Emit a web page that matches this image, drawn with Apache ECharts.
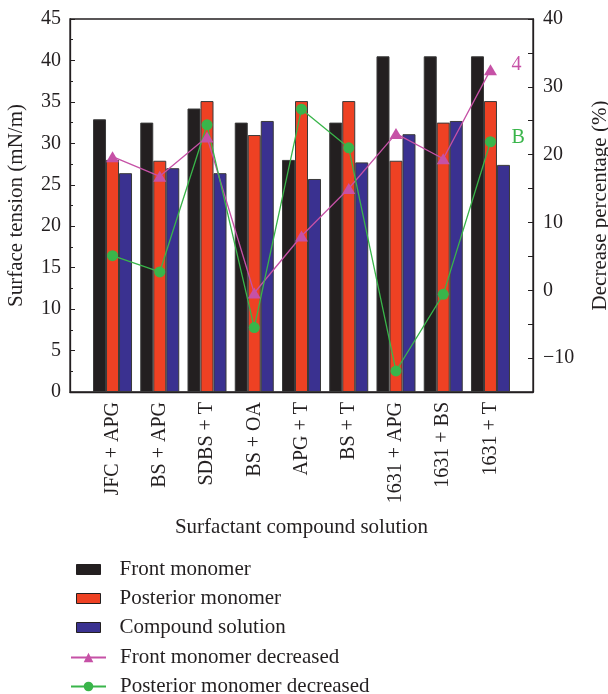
<!DOCTYPE html>
<html>
<head>
<meta charset="utf-8">
<script src="https://cdn.jsdelivr.net/npm/echarts@6/dist/echarts.min.js"></script>
<style>
  html, body { margin: 0; padding: 0; background: #fff; }
  #chart { width: 608px; height: 694px; }
</style>
</head>
<body>
<div id="chart"></div>
<script>
// categories and values
const categories = ['JFC + APG', 'BS + APG', 'SDBS + T', 'BS + OA', 'APG + T', 'BS + T', '1631 + APG', '1631 + BS', '1631 + T'];
const frontMonomer = [32.9, 32.5, 34.2, 32.5, 28.0, 32.5, 40.5, 40.5, 40.5];
const posteriorMonomer = [28.0, 27.9, 35.1, 31.0, 35.1, 35.1, 27.9, 32.5, 35.1];
const compoundSolution = [26.4, 27.0, 26.4, 32.7, 25.7, 27.7, 31.1, 32.7, 27.4];
const frontDecreased = [19.7, 16.8, 22.6, -0.4, 8.0, 15.0, 23.1, 19.4, 32.5];
const posteriorDecreased = [5.1, 2.7, 24.4, -5.5, 26.7, 21.0, -11.9, -0.6, 21.9];
const leftTicks = [0, 45, 5];
const rightTicks = [-15, 40, 5];

const FONT = 'Liberation Serif';
const INK = '#231f20';
const pairs = arr => arr.map((v, i) => [i, v]);

const chart = echarts.init(document.getElementById('chart'));

const barStyle = color => ({ color: color, borderColor: '#3a3a3a', borderWidth: 1 });

const option = {
  backgroundColor: '#fff',
  animation: false,
  textStyle: { fontFamily: FONT, color: INK },
  grid: {
    left: 70, right: 75, top: 19, bottom: 302,
    outerBoundsMode: 'none',
    show: true, borderColor: INK, borderWidth: 1.3, backgroundColor: 'transparent'
  },
  legend: [
    {
      data: ['Front monomer', 'Posterior monomer', 'Compound solution'],
      orient: 'vertical', left: 76, top: 559, height: 100, padding: 0,
      icon: 'rect',
      itemWidth: 24, itemHeight: 10, itemGap: 8,
      itemStyle: { borderColor: INK, borderWidth: 1 },
      textStyle: { fontFamily: FONT, fontSize: 21, color: INK, lineHeight: 21, padding: [0, 0, 0, 14] }
    },
    {
      data: ['Front monomer decreased', 'Posterior monomer decreased'],
      orient: 'vertical', left: 70, top: 647, height: 100, padding: 0,
      itemWidth: 35, itemHeight: 12, itemGap: 8,
      textStyle: { fontFamily: FONT, fontSize: 21, color: INK, lineHeight: 21, padding: [0, 0, 0, 9] }
    }
  ],
  xAxis: {
    type: 'value',
    min: -0.9, max: 8.9,
    name: 'Surfactant compound solution',
    nameLocation: 'middle', nameGap: 125,
    nameTextStyle: { fontFamily: FONT, fontSize: 21, color: INK },
    axisLine: { show: true, onZero: false, lineStyle: { color: INK, width: 1.3 } },
    axisTick: { show: false },
    splitLine: { show: false },
    axisLabel: {
      customValues: categories.map((c, i) => i),
      formatter: v => categories[Math.round(v)] || '',
      rotate: 90, margin: 10,
      fontFamily: FONT, fontSize: 20, color: INK
    }
  },
  yAxis: [
    {
      type: 'value',
      min: leftTicks[0], max: leftTicks[1], interval: leftTicks[2],
      name: 'Surface tension (mN/m)',
      nameLocation: 'middle', nameGap: 43, nameRotate: 90,
      nameTextStyle: { fontFamily: FONT, fontSize: 21, color: INK },
      axisLine: { show: true, onZero: false, lineStyle: { color: INK, width: 1.3 } },
      axisTick: { show: true, inside: true, length: 5, lineStyle: { color: INK } },
      minorTick: { show: true, splitNumber: 2, length: 3, lineStyle: { color: INK } },
      splitLine: { show: false },
      axisLabel: { margin: 9, fontFamily: FONT, fontSize: 20, color: INK }
    },
    {
      type: 'value',
      position: 'right',
      min: rightTicks[0], max: rightTicks[1], interval: rightTicks[2],
      name: 'Decrease percentage (%)',
      nameLocation: 'middle', nameGap: 57, nameRotate: 90,
      nameTextStyle: { fontFamily: FONT, fontSize: 21, color: INK },
      axisLine: { show: true, onZero: false, lineStyle: { color: INK, width: 1.3 } },
      axisTick: { show: true, inside: true, length: 5, lineStyle: { color: INK } },
      splitLine: { show: false },
      axisLabel: {
        margin: 10, fontFamily: FONT, fontSize: 20, color: INK,
        formatter: v => (v % 10 === 0 ? String(v).replace('-', '\u2212') : '')
      }
    }
  ],
  series: [
    {
      name: 'Front monomer', type: 'bar', yAxisIndex: 0,
      barWidth: 13, barGap: '0%',
      itemStyle: barStyle('#231f20'),
      data: pairs(frontMonomer)
    },
    {
      name: 'Posterior monomer', type: 'bar', yAxisIndex: 0,
      barWidth: 13, barGap: '0%',
      itemStyle: barStyle('#ee4123'),
      data: pairs(posteriorMonomer)
    },
    {
      name: 'Compound solution', type: 'bar', yAxisIndex: 0,
      barWidth: 13, barGap: '0%',
      itemStyle: barStyle('#3a3190'),
      data: pairs(compoundSolution)
    },
    {
      name: 'Front monomer decreased', type: 'line', yAxisIndex: 1,
      symbol: 'triangle', symbolSize: [13, 11],
      lineStyle: { color: '#c651a6', width: 1.3 },
      itemStyle: { color: '#c651a6' },
      endLabel: {
        show: true, formatter: '4', offset: [13, -5],
        fontFamily: FONT, fontSize: 20, color: '#c651a6'
      },
      data: pairs(frontDecreased)
    },
    {
      name: 'Posterior monomer decreased', type: 'line', yAxisIndex: 1,
      symbol: 'circle', symbolSize: 11,
      lineStyle: { color: '#39b54a', width: 1.3 },
      itemStyle: { color: '#39b54a' },
      endLabel: {
        show: true, formatter: 'B', offset: [13, -4],
        fontFamily: FONT, fontSize: 20, color: '#39b54a'
      },
      data: pairs(posteriorDecreased)
    }
  ]
};

chart.setOption(option);
</script>
</body>
</html>
